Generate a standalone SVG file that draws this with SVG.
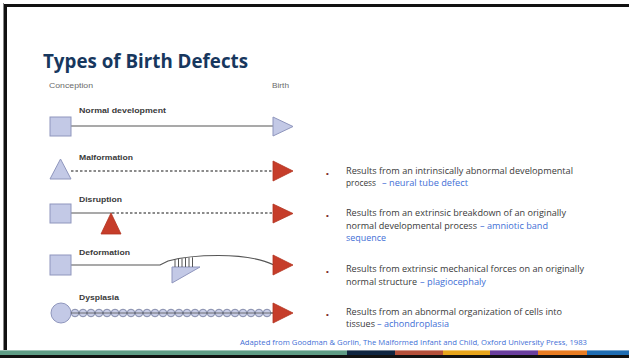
<svg xmlns="http://www.w3.org/2000/svg" width="629" height="358" viewBox="0 0 629 358">
<defs>
<style>
.lbl{font-family:"Liberation Sans",Arial,sans-serif;font-weight:bold;font-size:7.3px;fill:#3a3a3a}
.axis{font-family:"Liberation Sans",Arial,sans-serif;font-size:7px;fill:#6a6a6a}
.txt{font-family:"Open Sans","Liberation Sans",sans-serif;font-size:8.8px;fill:#3a3a3a}
.hl{fill:#3f6fd6}
.bul{font-family:"Liberation Sans",sans-serif;font-size:8px;fill:#7b2d1f}
.blue{fill:#c3c9e6;stroke:#8f96bd;stroke-width:1}
.red{fill:#c63d2a;stroke:#b2331f;stroke-width:0.8}
.solid{stroke:#555;stroke-width:1.2;fill:none}
.dash{stroke:#666;stroke-width:1.4;fill:none;stroke-dasharray:2.5,2}
.bead{fill:#c8cde6;stroke:#6f7799;stroke-width:0.8}
</style>
</defs>
<rect x="0" y="0" width="629" height="358" fill="#ffffff"/>
<g id="frame">
<rect x="4" y="4" width="625" height="3" fill="#111"/>
<rect x="4" y="4" width="3" height="352" fill="#111"/>
<rect x="3" y="3" width="1" height="353" fill="#888"/>
<rect x="0" y="355" width="629" height="3" fill="#111"/>
<rect x="0" y="350" width="347" height="5" fill="#5e9c85"/>
<rect x="347" y="350" width="48" height="5" fill="#0f2540"/>
<rect x="395" y="350" width="48" height="5" fill="#b4503a"/>
<rect x="443" y="350" width="47" height="5" fill="#e7a51c"/>
<rect x="490" y="350" width="48" height="5" fill="#6a3f9e"/>
<rect x="538" y="350" width="49" height="5" fill="#e87c22"/>
<rect x="587" y="350" width="42" height="5" fill="#1f6db3"/>
<rect x="0" y="350" width="629" height="1" fill="#ffffff" opacity="0.4"/>
</g>
<g id="title">
<text x="43" y="68" font-family="'Open Sans','Liberation Sans',sans-serif" font-weight="bold" font-size="20" fill="#17375e" textLength="205" lengthAdjust="spacingAndGlyphs">Types of Birth Defects</text>
</g>
<g id="axis-labels">
<text class="axis" x="49" y="88" textLength="44" lengthAdjust="spacingAndGlyphs">Conception</text>
<text class="axis" x="272" y="88" textLength="17" lengthAdjust="spacingAndGlyphs">Birth</text>
</g>
<g id="connectors">
<line class="solid" x1="71" y1="126" x2="274" y2="126"/>
<line class="dash" x1="71" y1="171" x2="274" y2="171"/>
<line class="solid" x1="71" y1="213" x2="112" y2="213"/>
<line class="dash" x1="112" y1="213" x2="274" y2="213"/>
<path class="solid" d="M71,265 H160 L168,261 C190,255 245,251 274,265"/>
<line class="solid" x1="71" y1="313" x2="274" y2="313"/>
</g>
<g id="normal">
<text class="lbl" x="79" y="113" textLength="87" lengthAdjust="spacingAndGlyphs">Normal development</text>
<rect class="blue" x="50" y="117" width="21" height="19"/>
<polygon class="blue" points="273,117 293,126.5 273,136"/>
</g>
<g id="malformation">
<text class="lbl" x="79" y="160" textLength="54" lengthAdjust="spacingAndGlyphs">Malformation</text>
<polygon class="blue" points="60.5,159 71,179 50,179"/>
<polygon class="red" points="273,161 293,171 273,181"/>
</g>
<g id="disruption">
<text class="lbl" x="79" y="202" textLength="43" lengthAdjust="spacingAndGlyphs">Disruption</text>
<rect class="blue" x="50" y="204" width="21" height="19"/>
<polygon class="red" points="111,213 121,234 101,234"/>
<polygon class="red" points="273,204 293,213.5 273,223"/>
</g>
<g id="deformation">
<text class="lbl" x="79" y="255" textLength="51" lengthAdjust="spacingAndGlyphs">Deformation</text>
<rect class="blue" x="50" y="255" width="21" height="20"/>
<polygon class="blue" points="172,267 200,267 172,283"/>
<g stroke="#555" stroke-width="1">
<line x1="175" y1="259.5" x2="175" y2="267"/>
<line x1="178.5" y1="259" x2="178.5" y2="267"/>
<line x1="182" y1="258.5" x2="182" y2="267"/>
<line x1="185.5" y1="258" x2="185.5" y2="267"/>
<line x1="189" y1="257.6" x2="189" y2="267"/>
<line x1="192.5" y1="257.3" x2="192.5" y2="267"/>
</g>
<polygon class="red" points="273,255 293,265 273,275"/>
</g>
<g id="dysplasia">
<text class="lbl" x="79" y="300" textLength="40" lengthAdjust="spacingAndGlyphs">Dysplasia</text>
<circle class="blue" cx="61" cy="313" r="10"/>
<g>
<circle class="bead" cx="75" cy="313" r="3.8"/><circle class="bead" cx="83" cy="313" r="3.8"/><circle class="bead" cx="91" cy="313" r="3.8"/><circle class="bead" cx="99" cy="313" r="3.8"/><circle class="bead" cx="107" cy="313" r="3.8"/><circle class="bead" cx="115" cy="313" r="3.8"/><circle class="bead" cx="123" cy="313" r="3.8"/><circle class="bead" cx="131" cy="313" r="3.8"/><circle class="bead" cx="139" cy="313" r="3.8"/><circle class="bead" cx="147" cy="313" r="3.8"/><circle class="bead" cx="155" cy="313" r="3.8"/><circle class="bead" cx="163" cy="313" r="3.8"/><circle class="bead" cx="171" cy="313" r="3.8"/><circle class="bead" cx="179" cy="313" r="3.8"/><circle class="bead" cx="187" cy="313" r="3.8"/><circle class="bead" cx="195" cy="313" r="3.8"/><circle class="bead" cx="203" cy="313" r="3.8"/><circle class="bead" cx="211" cy="313" r="3.8"/><circle class="bead" cx="219" cy="313" r="3.8"/><circle class="bead" cx="227" cy="313" r="3.8"/><circle class="bead" cx="235" cy="313" r="3.8"/><circle class="bead" cx="243" cy="313" r="3.8"/><circle class="bead" cx="251" cy="313" r="3.8"/><circle class="bead" cx="259" cy="313" r="3.8"/><circle class="bead" cx="267" cy="313" r="3.8"/>
<line x1="71" y1="313" x2="273" y2="313" stroke="#555" stroke-width="0.8"/>
</g>
<polygon class="red" points="273,303 293,313 273,323"/>
</g>
<g id="bullets">
<text class="bul" x="326" y="176">•</text>
<text class="txt" x="346" y="174" textLength="227" lengthAdjust="spacingAndGlyphs">Results from an intrinsically abnormal developmental</text>
<text class="txt" x="346" y="186" textLength="30" lengthAdjust="spacingAndGlyphs">process</text>
<text class="txt hl" x="382" y="186" textLength="86" lengthAdjust="spacingAndGlyphs">– neural tube defect</text>
<text class="bul" x="326" y="218">•</text>
<text class="txt" x="346" y="216" textLength="220" lengthAdjust="spacingAndGlyphs">Results from an extrinsic breakdown of an originally</text>
<text class="txt" x="346" y="229" textLength="131" lengthAdjust="spacingAndGlyphs">normal developmental process</text>
<text class="txt hl" x="480" y="229" textLength="68" lengthAdjust="spacingAndGlyphs">– amniotic band</text>
<text class="txt hl" x="346" y="241" textLength="40" lengthAdjust="spacingAndGlyphs">sequence</text>
<text class="bul" x="326" y="274">•</text>
<text class="txt" x="346" y="272" textLength="238" lengthAdjust="spacingAndGlyphs">Results from extrinsic mechanical forces on an originally</text>
<text class="txt" x="346" y="285" textLength="71" lengthAdjust="spacingAndGlyphs">normal structure</text>
<text class="txt hl" x="420" y="285" textLength="66" lengthAdjust="spacingAndGlyphs">– plagiocephaly</text>
<text class="bul" x="326" y="317">•</text>
<text class="txt" x="346" y="315" textLength="216" lengthAdjust="spacingAndGlyphs">Results from an abnormal organization of cells into</text>
<text class="txt" x="346" y="327" textLength="29" lengthAdjust="spacingAndGlyphs">tissues</text>
<text class="txt hl" x="377" y="327" textLength="72" lengthAdjust="spacingAndGlyphs">– achondroplasia</text>
</g>
<g id="source">
<text x="240" y="345" font-family="'Open Sans','Liberation Sans',sans-serif" font-size="7" fill="#3f6fd6" textLength="347" lengthAdjust="spacingAndGlyphs">Adapted from Goodman &amp; Gorlin, The Malformed  Infant and Child, Oxford University Press, 1983</text>
</g>
</svg>
